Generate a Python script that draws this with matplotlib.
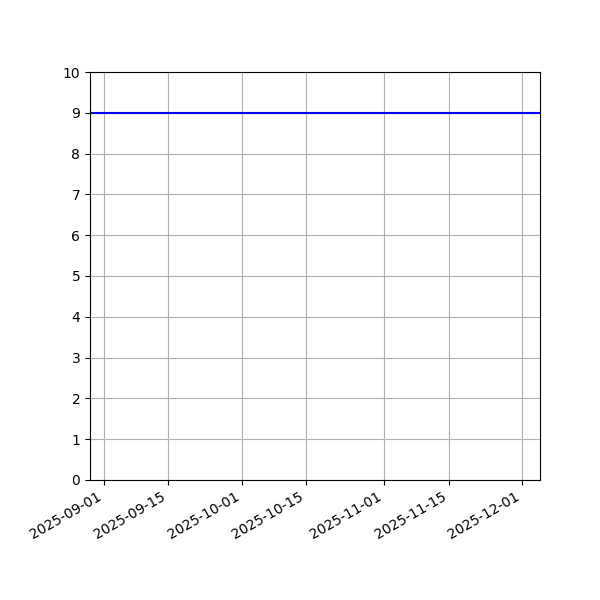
import matplotlib
matplotlib.use("Agg")
import matplotlib.pyplot as plt
import matplotlib.dates as mdates
from datetime import datetime

# period covered by the chart and the flat level drawn across it
dates = [datetime(2025, 9, 2, 10, 0), datetime(2025, 11, 30, 11, 0)]
level = 9

fig, ax = plt.subplots(figsize=(6, 6), dpi=100)
# invisible anchor for the date range, then the level line across the axes
ax.plot(dates, [level] * len(dates), alpha=0)
ax.axhline(level, color='blue')
ax.set_ylim(0, 10)
ax.set_yticks(range(0, 11))
ax.xaxis.set_major_locator(mdates.AutoDateLocator())
ax.xaxis.set_major_formatter(mdates.DateFormatter('%Y-%m-%d'))
ax.grid(True)
fig.autofmt_xdate()
fig.subplots_adjust(left=0.15)
fig.savefig('out.png', dpi=100)
